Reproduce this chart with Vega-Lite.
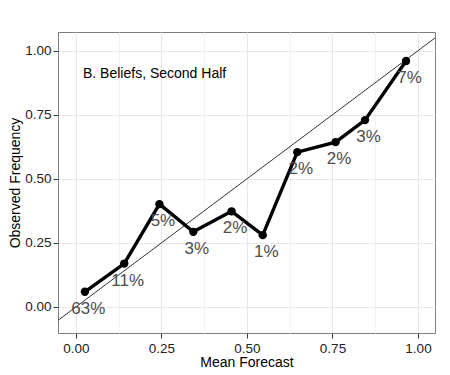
{
  "$schema": "https://vega.github.io/schema/vega-lite/v6.json",
  "autosize": {"type": "none"},
  "width": 377,
  "height": 301,
  "padding": {"left": 58, "top": 32, "right": 15, "bottom": 42},
  "background": "white",
  "config": {
    "view": {"stroke": "#7f7f7f", "strokeWidth": 1},
    "font": "Liberation Sans"
  },
  "datasets": {
    "pts": [
      {"forecast": 0.026, "observed": 0.059, "label": "63%"},
      {"forecast": 0.141, "observed": 0.169, "label": "11%"},
      {"forecast": 0.244, "observed": 0.401, "label": "5%"},
      {"forecast": 0.343, "observed": 0.293, "label": "3%"},
      {"forecast": 0.455, "observed": 0.373, "label": "2%"},
      {"forecast": 0.546, "observed": 0.280, "label": "1%"},
      {"forecast": 0.647, "observed": 0.604, "label": "2%"},
      {"forecast": 0.759, "observed": 0.643, "label": "2%"},
      {"forecast": 0.845, "observed": 0.729, "label": "3%"},
      {"forecast": 0.965, "observed": 0.960, "label": "7%"}
    ],
    "diag": [{"x": -0.3, "y": -0.3, "x2": 1.3, "y2": 1.3}],
    "note": [{"x": 0.0205, "y": 0.909, "text": "B. Beliefs, Second Half"}]
  },
  "layer": [
    {
      "data": {"name": "diag"},
      "mark": {"type": "rule", "color": "#333333", "strokeWidth": 1, "clip": true},
      "encoding": {
        "x": {
          "field": "x", "type": "quantitative",
          "scale": {"domain": [-0.0526, 1.0497], "nice": false, "zero": false},
          "axis": {
            "title": "Mean Forecast",
            "values": [0, 0.125, 0.25, 0.375, 0.5, 0.625, 0.75, 0.875, 1],
            "format": ".2f",
            "labelExpr": "abs(datum.value*4 - round(datum.value*4)) > 0.01 ? '' : datum.label",
            "domain": false,
            "gridColor": {"condition": {"test": "abs(datum.value*4 - round(datum.value*4)) > 0.01", "value": "#f3f3f3"}, "value": "#e8e8e8"},
            "gridWidth": 1,
            "tickColor": "#333333",
            "tickOpacity": {"condition": {"test": "abs(datum.value*4 - round(datum.value*4)) > 0.01", "value": 0}, "value": 1},
            "tickSize": 5,
            "labelPadding": 3,
            "labelFontSize": 13.5,
            "labelColor": "#222222",
            "labelFlush": false,
            "titleFontSize": 14,
            "titleFontWeight": "normal",
            "titleColor": "black",
            "titlePadding": 1
          }
        },
        "y": {
          "field": "y", "type": "quantitative",
          "scale": {"domain": [-0.102, 1.073], "nice": false, "zero": false},
          "axis": {
            "title": "Observed Frequency",
            "values": [0, 0.125, 0.25, 0.375, 0.5, 0.625, 0.75, 0.875, 1],
            "format": ".2f",
            "labelExpr": "abs(datum.value*4 - round(datum.value*4)) > 0.01 ? '' : datum.label",
            "domain": false,
            "gridColor": {"condition": {"test": "abs(datum.value*4 - round(datum.value*4)) > 0.01", "value": "#f3f3f3"}, "value": "#e8e8e8"},
            "gridWidth": 1,
            "tickColor": "#333333",
            "tickOpacity": {"condition": {"test": "abs(datum.value*4 - round(datum.value*4)) > 0.01", "value": 0}, "value": 1},
            "tickSize": 5,
            "labelPadding": 2,
            "labelFontSize": 13.5,
            "labelColor": "#222222",
            "labelFlush": false,
            "titleFontSize": 14,
            "titleFontWeight": "normal",
            "titleColor": "black",
            "titlePadding": 2
          }
        },
        "x2": {"field": "x2"},
        "y2": {"field": "y2"}
      }
    },
    {
      "data": {"name": "pts"},
      "mark": {"type": "line", "color": "black", "strokeWidth": 3.4, "point": {"filled": true, "size": 70, "color": "black", "opacity": 1}},
      "encoding": {
        "x": {"field": "forecast", "type": "quantitative"},
        "y": {"field": "observed", "type": "quantitative"}
      }
    },
    {
      "data": {"name": "pts"},
      "mark": {"type": "text", "fontSize": 17, "color": "#4d4d4d", "dx": 3.5, "dy": 17, "align": "center", "baseline": "middle"},
      "encoding": {
        "x": {"field": "forecast", "type": "quantitative"},
        "y": {"field": "observed", "type": "quantitative"},
        "text": {"field": "label"}
      }
    },
    {
      "data": {"name": "note"},
      "mark": {"type": "text", "fontSize": 14, "color": "black", "align": "left", "baseline": "middle"},
      "encoding": {
        "x": {"field": "x", "type": "quantitative"},
        "y": {"field": "y", "type": "quantitative"},
        "text": {"field": "text"}
      }
    }
  ]
}
